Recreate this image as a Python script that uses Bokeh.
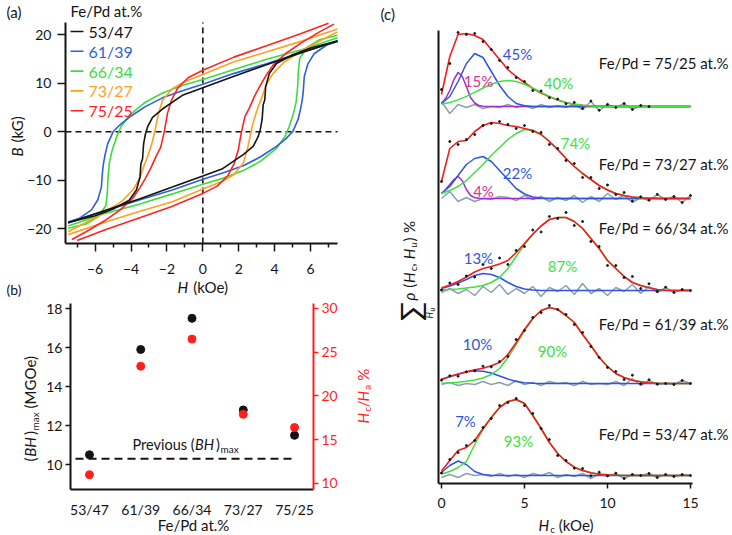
import math
from bokeh.plotting import figure
from bokeh.models import Range1d, LinearAxis, FixedTicker, Label
from bokeh.layouts import row, column
from bokeh.embed import file_html
from bokeh.resources import INLINE

FONT = "Lato"
INK = "#141414"

# ------------------------------------------------------------------ data (a)
LOOP_NAMES = ["53/47", "61/39", "66/34", "73/27", "75/25"]
LOOP_COLORS = ["#141414", "#2f5fd8", "#3ddc3d", "#ffa01e", "#ff2424"]

# descending (upper) branches, H in kOe, B in kG
up_53_H = [7.5, 5.5, 3.5, 1.7, 0, -1.1, -2.25, -2.8, -3.08, -3.2, -3.3, -3.36, -3.45, -3.5, -3.7, -4.1, -5.0, -6.0, -7.5]
up_53_B = [18.8, 16.3, 13.8, 11.4, 9.1, 7.6, 4.7, 3.0, 1.0, -0.5, -2.5, -5.6, -6.6, -9.3, -12.0, -14.1, -15.9, -17.3, -18.7]
up_61_H = [7.5, 5.5, 3.5, 1.7, 0, -1.1, -2.25, -3.2, -4.1, -4.6, -5.0, -5.3, -5.45, -5.55, -5.6, -5.65, -5.85, -6.2, -6.9, -7.5]
up_61_B = [18.6, 16.4, 14.0, 12.0, 9.8, 8.5, 7.0, 5.2, 3.0, 1.5, 0.0, -2.5, -4.8, -6.9, -8.7, -11.4, -14.0, -16.1, -17.9, -18.6]
up_66_H = [7.5, 5.5, 3.5, 1.7, 0, -1.1, -2.25, -3.2, -4.1, -4.57, -4.8, -5.05, -5.2, -5.28, -5.32, -5.4, -5.8, -6.5, -7.5]
up_66_B = [19.4, 16.9, 14.9, 12.8, 10.8, 9.6, 8.0, 6.1, 3.4, 1.0, -1.0, -3.8, -6.2, -9.3, -12.6, -15.2, -17.4, -19.0, -19.9]
up_73_H = [7.5, 5.5, 3.5, 1.7, 0, -1.1, -1.7, -2.25, -2.5, -2.68, -2.84, -3.05, -3.3, -3.5, -3.9, -4.5, -5.4, -6.3, -7.5]
up_73_B = [21.2, 18.7, 16.4, 14.4, 11.8, 10.2, 8.9, 6.5, 3.3, 0.0, -2.4, -4.8, -7.2, -9.5, -12.0, -14.3, -16.5, -18.3, -20.6]
up_75_H = [7.0, 5.44, 3.59, 1.73, 0, -0.8, -1.4, -1.75, -1.97, -2.15, -2.35, -2.6, -2.9, -3.2, -3.5, -3.9, -4.6, -5.5, -6.5, -7.3]
up_75_B = [22.4, 20.2, 17.8, 15.4, 12.7, 11.2, 9.0, 6.5, 3.8, 0.0, -3.2, -5.0, -7.5, -9.6, -11.5, -13.7, -16.1, -18.4, -20.6, -22.2]
UP_H = [up_53_H, up_61_H, up_66_H, up_73_H, up_75_H]
UP_B = [up_53_B, up_61_B, up_66_B, up_73_B, up_75_B]

# ------------------------------------------------------------------ data (b)
COMPOS = ["53/47", "61/39", "66/34", "73/27", "75/25"]
BH_MAX = [10.5, 15.9, 17.5, 12.8, 11.5]
HC_HA = [11.0, 23.4, 26.5, 17.9, 16.4]
PREVIOUS_BH = 10.3

# ------------------------------------------------------------------ data (c)
HC = [0, 0.5, 1, 1.5, 2, 2.5, 3, 3.5, 4, 4.5, 5, 5.5, 6, 6.5, 7, 7.5, 8, 8.5, 9, 9.5,
      10, 10.5, 11, 11.5, 12, 12.5, 13, 13.5, 14, 14.5, 15]
HC_FINE = [0, 0.25, 0.5, 0.75, 1, 1.25, 1.5, 1.75, 2, 2.25, 2.5, 2.75, 3, 15]

red_7525 = [12, 50, 72, 73, 71, 67, 57, 47, 37, 30, 24, 18, 13.5, 9.8, 6.4, 3.8, 2.1, 1.1, 0.5, 0.2, 0.1, 0, 0, 0, 0, 0, 0, 0, 0, 0, 0]
green_7525 = [2.3, 4.0, 6.6, 10.1, 14.2, 18.5, 22.3, 25, 26, 25, 22.3, 18.5, 14.2, 10.1, 6.6, 4.0, 2.3, 1.2, 0.6, 0.25, 0.1, 0, 0, 0, 0, 0, 0, 0, 0, 0, 0]
blue_7525 = [3, 10, 25, 43, 53, 49, 35, 21, 10, 3, 0.8, 0, 0, 0, 0, 0, 0, 0, 0, 0, 0, 0, 0, 0, 0, 0, 0, 0, 0, 0, 0]
purple_7525 = [3, 8, 16, 27, 34, 30, 20, 9, 3.5, 1, 0.3, 0, 0, 0]
res_7525 = [5, -7, 2, -1, 2, -2, 0, -1, 2, -1, 1, -2, 2, -1, 1, -1, 2, -3, 5, -4, 2, -1, 3, -3, 1, 0]

red_7327 = [17, 50, 57, 58, 67, 73, 76, 75, 73, 72, 70, 68, 64, 57, 49, 40, 32, 25, 19, 13, 8.5, 5, 3, 1.5, 0.7, 0.3, 0.1, 0, 0, 0, 0]
green_7327 = [5, 8, 12, 18, 26, 34, 43, 51, 59, 65, 69, 68, 64, 57, 49, 40, 32, 25, 19, 13, 8.5, 5, 3, 1.5, 0.7, 0.3, 0.1, 0, 0, 0, 0]
blue_7327 = [5, 12, 23, 34, 40, 42, 37, 28, 19, 10, 4.5, 1.5, 0.5, 0, 0, 0, 0, 0, 0, 0, 0, 0, 0, 0, 0, 0, 0, 0, 0, 0, 0]
purple_7327 = [5, 9, 14, 19, 22, 18, 9, 3, 0.8, 0.2, 0, 0, 0, 0]
res_7327 = [0, 7, -3, 1, -3, 0, -1, 2, 1, -2, 3, -1, 2, -3, 1, -2, 3, -4, 2, -3, 5, -1, 3, -4, 1, -2, 4, -1, 2, -4, 3]

red_6634 = [2.5, 5.5, 9, 13.5, 18.5, 22, 24, 26.5, 30, 38, 47, 56.5, 64.5, 71, 73, 73, 69, 62, 52, 42, 30, 22, 14, 8, 5, 2.7, 1, 0.3, 0, 0, 0]
green_6634 = [0.5, 1, 1.5, 2.5, 3.5, 5, 8, 13, 22, 34, 46, 56, 64.5, 71, 73, 73, 69, 62, 52, 42, 30, 22, 14, 8, 5, 2.7, 1, 0.3, 0, 0, 0]
blue_6634 = [2, 4.5, 7.5, 11, 15, 17, 16, 13, 8, 4, 1.5, 0.5, 0, 0, 0, 0, 0, 0, 0, 0, 0, 0, 0, 0, 0, 0, 0, 0, 0, 0, 0]
res_6634 = [-2, 2, -3, 1, -5, 4, -2, 6, -4, 2, -3, 4, -6, 3, -1, 5, -4, 7, -3, 2, -5, 3, -1, 6, -3, 4, -2, 3, -2, 1, 0]

red_6139 = [4.3, 6.7, 9.3, 11.7, 13.7, 15.3, 17.7, 21, 29, 41, 54, 65, 73, 76, 74, 68, 61, 49, 38, 26, 17, 10, 6, 3.3, 1.7, 0.7, 0.3, 0, 0, 0, 0]
green_6139 = [0.3, 0.7, 1.3, 2.2, 3.5, 5.5, 9, 15, 26, 39, 53, 65, 73, 76, 74, 68, 61, 49, 38, 26, 17, 10, 6, 3.3, 1.7, 0.7, 0.3, 0, 0, 0, 0]
blue_6139 = [4, 7, 9.5, 11.5, 12.7, 12.3, 10.5, 7.5, 4.5, 2, 0.8, 0.3, 0, 0, 0, 0, 0, 0, 0, 0, 0, 0, 0, 0, 0, 0, 0, 0, 0, 0, 0]
res_6139 = [-1, 1, -2, 0, -1, 2, -1, 1, -2, 3, -1, 1, -2, 2, 0, 1, -2, 2, -1, 0, -1, 2, -2, 5, -2, 3, -1, 0, -1, 3, 0]

red_5347 = [4.5, 15, 25, 28, 35, 47, 58, 68, 74, 76, 72, 60, 47, 33, 22, 14, 8.3, 5, 2.7, 1.3, 0.7, 0.3, 0, 0, 0, 0, 0, 0, 0, 0, 0]
green_5347 = [1.5, 4, 8, 14, 31, 46, 58, 68, 74, 76, 72, 60, 47, 33, 22, 14, 8.3, 5, 2.7, 1.3, 0.7, 0.3, 0, 0, 0, 0, 0, 0, 0, 0, 0]
blue_5347 = [3, 10, 14.5, 11, 4, 1, 0.2, 0, 0, 0, 0, 0, 0, 0, 0, 0, 0, 0, 0, 0, 0, 0, 0, 0, 0, 0, 0, 0, 0, 0, 0]
res_5347 = [-2, 1, -2, 2, 0, 1, -1, 2, -1, 1, -2, 2, 0, 3, -2, 1, -1, 2, -3, 2, -1, 2, -3, 1, 0, 2, -2, 1, -1, 1, 0]

PANELS = [  # name, red, green, blue, purple, residual, pct(blue), pct(green), pct(purple)
    ("53/47", red_5347, green_5347, blue_5347, None, res_5347, "7%", "93%", None),
    ("61/39", red_6139, green_6139, blue_6139, None, res_6139, "10%", "90%", None),
    ("66/34", red_6634, green_6634, blue_6634, None, res_6634, "13%", "87%", None),
    ("73/27", red_7327, green_7327, blue_7327, purple_7327, res_7327, "22%", "74%", "4%"),
    ("75/25", red_7525, green_7525, blue_7525, purple_7525, res_7525, "45%", "40%", "15%"),
]

# ------------------------------------------------------------------ geometry helpers
# fx/fy: where the axes box sits on the page; xr/yr: its data limits;
# cx/cy: the whole canvas of that figure on the page.
GEOM = {
    "a": dict(fx=(65, 337), fy=(22, 243), xr=(-7.65, 7.5), yr=(-23.03, 22.54), cx=(0, 376), cy=(0, 298)),
    "b": dict(fx=(70, 313), fy=(303, 489), xr=(-0.37, 4.37), yr=(8.72, 18.26), cx=(0, 376), cy=(298, 535)),
    "c": dict(fx=(438, 692), fy=(30, 483), xr=(-0.18, 15.12), yr=(0, 453), cx=(376, 732), cy=(0, 535)),
}


def conv_x(G, X, xr=None):
    xr = xr or G["xr"]
    return xr[0] + (X - G["fx"][0]) / (G["fx"][1] - G["fx"][0]) * (xr[1] - xr[0])


def conv_y(G, Y, yr=None):
    yr = yr or G["yr"]
    return yr[1] - (Y - G["fy"][0]) / (G["fy"][1] - G["fy"][0]) * (yr[1] - yr[0])


def conv(g, X, Y):
    G = GEOM[g]
    return conv_x(G, X), conv_y(G, Y)


CW = {c: 0.58 for c in "0123456789"}
CW.update({'B': 0.63, 'H': 0.74, 'M': 0.9, 'G': 0.72, 'O': 0.79, 'P': 0.59, 'F': 0.54,
           'a': 0.5, 'c': 0.46, 'e': 0.52, 'k': 0.5, 'm': 0.83, 'x': 0.48, 'u': 0.56, 'r': 0.36,
           'v': 0.5, 'i': 0.24, 'o': 0.56, 's': 0.41, 't': 0.35, 'd': 0.57,
           '(': 0.31, ')': 0.31, '/': 0.38, ' ': 0.26, ',': 0.24, '.': 0.24, '%': 0.79,
           'ρ': 0.56, '-': 0.37, '=': 0.58})


def est_w(t, size):
    return sum(CW.get(ch, 0.55) for ch in t) * size


def lab(p, g, X, Y, text, size=14, color=INK, style="normal", align="left",
        baseline="middle", angle=0.0):
    x, y = conv(g, X, Y)
    p.add_layout(Label(x=x, y=y, text=text, text_font=FONT, text_font_size=f"{size}px",
                       text_color=color, text_font_style=style, text_align=align,
                       text_baseline=baseline, angle=angle))


def seq(p, g, X, Y, parts, color=INK, vertical=False):
    pos = Y if vertical else X
    for text, size, style, shift in parts:
        stripped = text.lstrip(" ")
        lead = est_w(text[:len(text) - len(stripped)], size)
        pos = pos - lead if vertical else pos + lead
        if vertical:
            lab(p, g, X + shift, pos, stripped, size, color, style, angle=math.pi / 2)
        else:
            lab(p, g, pos, Y + shift, stripped, size, color, style)
        w = est_w(stripped, size) * (1.06 if style == "italic" else 1.0)
        pos = pos - w if vertical else pos + w


def make_fig(g):
    G = GEOM[g]
    w = G["cx"][1] - G["cx"][0]
    h = G["cy"][1] - G["cy"][0]
    p = figure(width=w, height=h,
               x_range=Range1d(conv_x(G, G["cx"][0]), conv_x(G, G["cx"][1])),
               y_range=Range1d(conv_y(G, G["cy"][1]), conv_y(G, G["cy"][0])),
               output_backend="svg", toolbar_location=None,
               min_border_left=0, min_border_right=0, min_border_top=0, min_border_bottom=0)
    p.outline_line_color = None
    p.xgrid.visible = False
    p.ygrid.visible = False
    p.background_fill_color = "white"
    p.border_fill_color = "white"
    # axes pinned to the edges of the axes box
    p.xaxis[0].fixed_location = G["yr"][0]
    p.xaxis[0].bounds = G["xr"]
    p.yaxis[0].fixed_location = G["xr"][0]
    p.yaxis[0].bounds = G["yr"]
    return p


def style_axis(ax, color=INK, tick_out=7, standoff=4, size="13.5px"):
    ax.axis_line_width = 2
    ax.axis_line_color = color
    ax.major_tick_line_color = color
    ax.major_tick_line_width = 1.5
    ax.major_tick_in = 0
    ax.major_tick_out = tick_out
    ax.minor_tick_line_color = None
    ax.major_label_text_font = FONT
    ax.major_label_text_font_size = size
    ax.major_label_text_color = color
    ax.major_label_standoff = standoff


# ------------------------------------------------------------------ panel (a)
GA = GEOM["a"]
pa = make_fig("a")
style_axis(pa.xaxis[0], tick_out=8, standoff=12, size="14px")
pa.xaxis[0].ticker = FixedTicker(ticks=[-6, -4, -2, 0, 2, 4, 6], minor_ticks=[-7, -5, -3, -1, 1, 3, 5, 7])
pa.xaxis[0].minor_tick_line_color = INK
pa.xaxis[0].minor_tick_line_width = 1.5
pa.xaxis[0].minor_tick_in = 0
pa.xaxis[0].minor_tick_out = 4
style_axis(pa.yaxis[0], tick_out=8, standoff=6, size="14px")
pa.yaxis[0].ticker = FixedTicker(ticks=[-20, -10, 0, 10, 20])

# dashed zero lines across the axes box
pa.line([0, 0], list(GA["yr"]), line_color=INK, line_dash="6 4", line_width=1.6)
pa.line(list(GA["xr"]), [0, 0], line_color=INK, line_dash="6 4", line_width=1.6)

for i in [2, 1, 3, 4, 0]:
    hs, bs = UP_H[i], UP_B[i]
    pa.line(hs, bs, line_color=LOOP_COLORS[i], line_width=1.6)
    pa.line([-h for h in hs], [-b for b in bs], line_color=LOOP_COLORS[i], line_width=1.6)

lab(pa, "a", 6, 11, "(a)", 15)
lab(pa, "a", 70, 10, "Fe/Pd at.%", 15)
for i, name in enumerate(LOOP_NAMES):
    Y = 31 + 19.8 * i
    x0, y0 = conv("a", 70, Y)
    x1, _ = conv("a", 83, Y)
    pa.line([x0, x1], [y0, y0], line_color=LOOP_COLORS[i], line_width=1.6)
    lab(pa, "a", 88, Y, name, 16, LOOP_COLORS[i])
seq(pa, "a", 16, 156, [("B", 15, "italic", 0), (" (kG)", 15, "normal", 0)], vertical=True)
seq(pa, "a", 177, 286, [("H", 15, "italic", 0), (" (kOe)", 15, "normal", 0)])
lab(pa, "a", 6, 289, "(b)", 14)

# ------------------------------------------------------------------ panel (b)
RED = "#ff1f1f"
GB = GEOM["b"]
R_YR = (9.31, 30.57)
pb = make_fig("b")
pb.extra_y_ranges = {"r": Range1d(conv_y(GB, GB["cy"][1], R_YR), conv_y(GB, GB["cy"][0], R_YR))}
style_axis(pb.yaxis[0], tick_out=5, standoff=3, size="14px")
pb.yaxis[0].ticker = FixedTicker(ticks=[10, 12, 14, 16, 18])
style_axis(pb.xaxis[0], tick_out=0, standoff=11, size="14px")
pb.xaxis[0].major_tick_line_color = None
pb.xaxis[0].ticker = FixedTicker(ticks=list(range(len(COMPOS))))
pb.xaxis[0].major_label_overrides = {i: c for i, c in enumerate(COMPOS)}
rax = LinearAxis(y_range_name="r", fixed_location=GB["xr"][1], bounds=R_YR)
style_axis(rax, color=RED, tick_out=5, standoff=3, size="14px")
rax.ticker = FixedTicker(ticks=[10, 15, 20, 25, 30])
pb.add_layout(rax, "right")

xa, _ = conv("b", 75, 458)
xb, _ = conv("b", 293, 458)
pb.line([xa, xb], [PREVIOUS_BH, PREVIOUS_BH], line_color=INK, line_width=2, line_dash="8 5")
idx = list(range(len(COMPOS)))
pb.scatter(idx, BH_MAX, size=8, color=INK)
pb.scatter(idx, HC_HA, size=8, color=RED, y_range_name="r")

seq(pb, "b", 132, 444, [("Previous (", 14.5, "normal", 0), ("BH", 14.5, "italic", 0),
                        (")", 14.5, "normal", 0), ("max", 10, "normal", 4)])
seq(pb, "b", 29, 461, [("(", 15, "normal", 0), ("BH", 15, "italic", 0), (")", 15, "normal", 0),
                       ("max", 10, "normal", 5), (" (MGOe)", 15, "normal", 0)], vertical=True)
seq(pb, "b", 362, 423, [("H", 15, "italic", 0), ("c", 10, "normal", 4), ("/", 15, "normal", 0),
                        ("H", 15, "italic", 0), ("a", 10, "normal", 4), (" %", 15, "normal", 0)],
    color=RED, vertical=True)
lab(pb, "b", 193, 524, "Fe/Pd at.%", 15, align="center")

# ------------------------------------------------------------------ panel (c)
C_RED, C_GREEN, C_BLUE, C_PURPLE, C_PINK, C_GRAY = "#f41c1c", "#3fe03f", "#2f55e0", "#a02ec8", "#d9348c", "#8d9fb2"
pc = make_fig("c")
style_axis(pc.xaxis[0], tick_out=5, standoff=9, size="14px")
pc.xaxis[0].ticker = FixedTicker(ticks=[0, 5, 10, 15])
style_axis(pc.yaxis[0])
pc.yaxis[0].ticker = FixedTicker(ticks=[])
pc.yaxis[0].major_label_text_font_size = "0px"

OFFSETS = [8, 100, 193, 285, 377]
for k, (name, red, green, blue, purple, res, pb_txt, pg_txt, pp_txt) in enumerate(PANELS):
    off = OFFSETS[k]
    n = len(res)
    pc.line(HC[:n], [r + off for r in res], line_color=C_GRAY, line_width=1.5)
    if purple is not None:
        pc.line(HC_FINE, [v + off for v in purple], line_color=C_PURPLE, line_width=1.5)
    pc.line(HC, [v + off for v in blue], line_color=C_BLUE, line_width=1.5)
    if name == "75/25":
        pc.line(HC, [v + off for v in red], line_color=C_RED, line_width=1.6)
        pc.line(HC, [v + off for v in green], line_color=C_GREEN, line_width=1.5)
    else:
        pc.line(HC, [v + off for v in green], line_color=C_GREEN, line_width=1.5)
        pc.line(HC, [v + off for v in red], line_color=C_RED, line_width=1.6)
    pc.scatter(HC[:n], [red[i] + res[i] + off for i in range(n)], size=2, color=INK)

TXT = {  # name: (fe/pd label y, blue pct pos, green pct pos, purple pct pos)
    "75/25": (62, (517, 53), (558, 82), (478, 80)),
    "73/27": (163, (517, 172), (575, 142), (483, 190)),
    "66/34": (227, (478, 257), (562, 265), None),
    "61/39": (323, (477, 343), (552, 350), None),
    "53/47": (433, (465, 420), (518, 440), None),
}
for name, red, green, blue, purple, res, pb_txt, pg_txt, pp_txt in PANELS:
    fy, bp, gp, pp = TXT[name]
    lab(pc, "c", 728, fy, f"Fe/Pd = {name} at.%", 15, align="right")
    lab(pc, "c", bp[0], bp[1], pb_txt, 15, C_BLUE, align="center")
    lab(pc, "c", gp[0], gp[1], pg_txt, 15, C_GREEN, align="center")
    if pp is not None:
        lab(pc, "c", pp[0], pp[1], pp_txt, 15, C_PINK, align="center")

lab(pc, "c", 380, 13, "(c)", 15)
lab(pc, "c", 409, 311, "∑", 28, align="center", angle=math.pi / 2)
seq(pc, "c", 429, 318, [("H", 9, "italic", 0), ("u", 7, "italic", 2)], vertical=True)
seq(pc, "c", 408, 300, [("ρ", 15, "italic", 0), (" (", 15, "normal", 0), ("H", 15, "italic", 0),
                        ("c", 10, "normal", 4), (", ", 15, "normal", 0), ("H", 15, "italic", 0),
                        ("u", 10, "italic", 4), (")", 15, "normal", 0), (" %", 15, "normal", 0)],
    vertical=True)
seq(pc, "c", 538, 524, [("H", 15, "italic", 0), ("c", 10, "normal", 4), (" (kOe)", 15, "normal", 0)])

layout = row(column(pa, pb), pc)
open("out.html", "w").write(file_html(layout, INLINE))
